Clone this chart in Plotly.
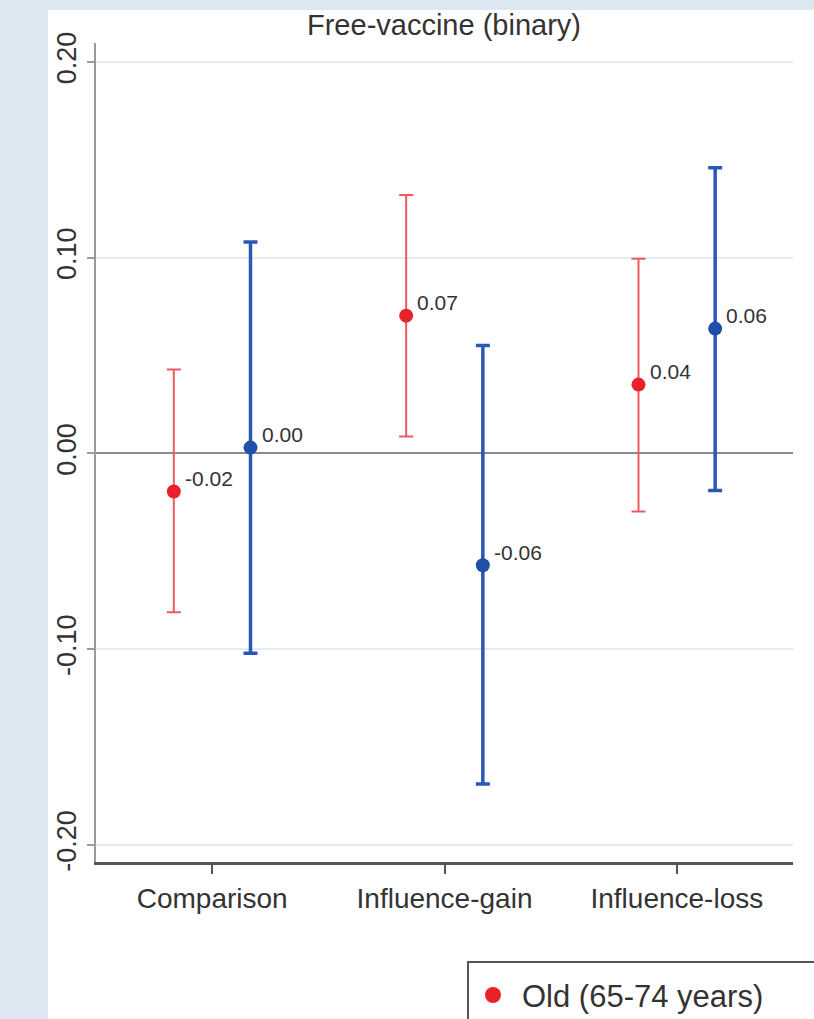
import plotly.graph_objects as go

categories = ["Comparison", "Influence-gain", "Influence-loss"]
old_est = [-0.0194, 0.0704, 0.0352]
old_hi = [0.0429, 0.1320, 0.0995]
old_lo = [-0.0811, 0.0087, -0.0296]
old_lab = ["-0.02", "0.07", "0.04"]
young_est = [0.0030, -0.0571, 0.0638]
young_hi = [0.1080, 0.0551, 0.1460]
young_lo = [-0.1020, -0.1689, -0.0189]
young_lab = ["0.00", "-0.06", "0.06"]
ytick_vals = [-0.2, -0.1, 0.0, 0.1, 0.2]
ytick_text = ["-0.20", "-0.10", "0.00", "0.10", "0.20"]
legend_label = "Old (65-74 years)"

W, H = 814, 1019
L, R, T, B = 96, 21, 43, 157
pw, ph = W - L - R, H - T - B

def px_x(p):
    return (p - L) / pw

def px_y(p):
    return (H - B - p) / ph

pos = [i + 1 for i in range(len(categories))]
off = 0.165
font = "Liberation Sans, Arial, sans-serif"
RED = "#e8222b"
BLUE = "#1f4fa8"

fig = go.Figure()
fig.add_trace(go.Scatter(
    x=[p - off for p in pos], y=old_est, mode="markers",
    name=legend_label,
    marker=dict(color=RED, size=14),
    error_y=dict(type="data", symmetric=False,
                 array=[h - e for h, e in zip(old_hi, old_est)],
                 arrayminus=[e - l for e, l in zip(old_est, old_lo)],
                 color="#ef5a60", thickness=2, width=7),
    cliponaxis=False, showlegend=False,
))
fig.add_trace(go.Scatter(
    x=[p + off for p in pos], y=young_est, mode="markers",
    name="Young",
    marker=dict(color=BLUE, size=14),
    error_y=dict(type="data", symmetric=False,
                 array=[h - e for h, e in zip(young_hi, young_est)],
                 arrayminus=[e - l for e, l in zip(young_est, young_lo)],
                 color="#2a58b5", thickness=3.5, width=7),
    showlegend=False, cliponaxis=False,
))

annotations = []
for xs, ys, labs in ((
        [p - off for p in pos], old_est, old_lab),
        ([p + off for p in pos], young_est, young_lab)):
    for xv, yv, t in zip(xs, ys, labs):
        annotations.append(dict(
            x=xv, y=yv, text=t, showarrow=False, xanchor="left", yanchor="middle",
            xshift=9, yshift=13,
            font=dict(size=21, color="#333333", family=font)))

# legend (box is cut off by the page edge as in the reference)
annotations.append(dict(
    xref="paper", yref="paper", x=px_x(520), y=px_y(996), text=legend_label,
    showarrow=False, xanchor="left", yanchor="middle",
    font=dict(size=31, color="#333333", family=font)))

shapes = [
    dict(type="rect", xref="paper", yref="paper", layer="below",
         x0=px_x(48), x1=px_x(830), y0=px_y(1030), y1=px_y(10),
         fillcolor="white", line=dict(width=0)),
    dict(type="rect", xref="paper", yref="paper",
         x0=px_x(468), x1=px_x(840), y0=px_y(1060), y1=px_y(962),
         fillcolor="rgba(0,0,0,0)", line=dict(color="#555555", width=2)),
    dict(type="circle", xref="paper", yref="paper",
         x0=px_x(485), x1=px_x(501), y0=px_y(1003), y1=px_y(987),
         fillcolor=RED, line=dict(color=RED, width=0)),
]

fig.update_layout(
    width=W, height=H,
    margin=dict(l=L, r=R, t=T, b=B),
    paper_bgcolor="#dde7f1", plot_bgcolor="white",
    font=dict(family=font, color="#333333"),
    title=dict(text="Free-vaccine (binary)", xref="container", x=444 / W,
               xanchor="center", yref="container", y=1 - 25 / H, yanchor="middle",
               font=dict(size=29, color="#333333", family=font)),
    shapes=shapes,
    annotations=annotations,
    showlegend=False,
    xaxis=dict(range=[0.5, 3.5], tickvals=pos, ticktext=categories,
               showgrid=False, zeroline=False, showline=True,
               linecolor="#555555", linewidth=3, ticks="outside", ticklen=9,
               tickwidth=2, tickcolor="#555555",
               tickfont=dict(size=28, family=font, color="#333333")),
    yaxis=dict(range=[-0.2087, 0.2097], tickvals=ytick_vals, ticktext=ytick_text,
               tickangle=-90, showgrid=True, gridcolor="#e3ebf2", gridwidth=1.5,
               zeroline=True, zerolinecolor="#8a8a8a", zerolinewidth=1.5,
               showline=True, linecolor="#9a9a9a", linewidth=2,
               ticks="outside", ticklen=7, tickwidth=2, tickcolor="#9a9a9a",
               tickfont=dict(size=27, family=font, color="#333333")),
)

fig.write_html("out.html", config={"displayModeBar": False},
               post_script="document.body.style.margin='0';")
